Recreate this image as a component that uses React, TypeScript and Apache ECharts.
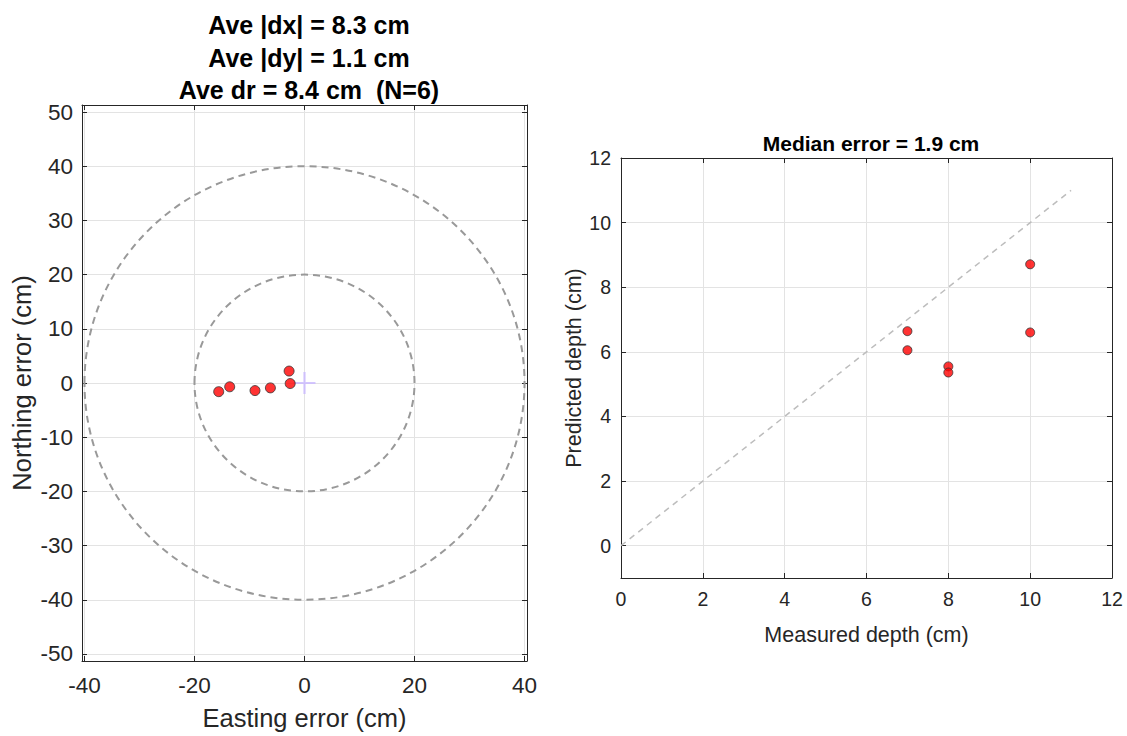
import React, { useEffect, useRef } from "react";
import * as echarts from "echarts";

// Left panel: horizontal position errors (cm)
const EASTING_ERR = [-15.6, -13.6, -9.0, -6.2, -2.8, -2.6];
const NORTHING_ERR = [-1.6, -0.7, -1.4, -0.9, 2.2, -0.1];
const RING_RADII = [20, 40];
const LEFT_TITLE = ["Ave |dx| = 8.3 cm", "Ave |dy| = 1.1 cm", "Ave dr = 8.4 cm  (N=6)"];

// Right panel: depth comparison (cm)
const MEASURED_DEPTH = [7, 7, 8, 8, 10, 10];
const PREDICTED_DEPTH = [6.64, 6.05, 5.55, 5.36, 8.71, 6.6];
const ONE_TO_ONE = [
  [0, 0],
  [11, 11],
];
const RIGHT_TITLE = "Median error = 1.9 cm";

const FONT = "'Liberation Sans', Arial, Helvetica, sans-serif";
const AX = "#262626";
const GRIDC = "#e3e3e3";

function mainAxis(extra: any) {
  return {
    type: "value",
    axisLine: { show: true, onZero: false, lineStyle: { color: AX, width: 1 } },
    axisTick: { show: true, inside: true, length: 5, lineStyle: { color: AX } },
    splitLine: { show: true, lineStyle: { color: GRIDC, width: 1 } },
    nameLocation: "middle",
    nameTextStyle: { color: AX, fontFamily: FONT },
    ...extra,
  };
}
function boxAxis(extra: any) {
  return {
    type: "value",
    axisLine: { show: true, onZero: false, lineStyle: { color: AX, width: 1 } },
    axisTick: { show: true, inside: true, length: 5, lineStyle: { color: AX } },
    axisLabel: { show: false },
    splitLine: { show: false },
    ...extra,
  };
}

export default function App() {
  const ref = useRef<HTMLDivElement>(null);
  useEffect(() => {
    if (!ref.current) return;
    const chart = echarts.init(ref.current, null, { renderer: "svg" });
    const LX = [-40.45, 40.45];
    const LY = [-51.3, 51.3];
    const RX = [0, 12];
    const RY = [-1, 12];
    const leftLabel = { color: AX, fontSize: 22.5, fontFamily: FONT, showMinLabel: false, showMaxLabel: false };
    const rightLabel = { color: AX, fontSize: 19.5, fontFamily: FONT };
    chart.setOption({
      animation: false,
      backgroundColor: "#ffffff",
      title: [
        {
          text: LEFT_TITLE.join("\n"),
          left: 304,
          top: 4,
          textAlign: "center",
          textStyle: { fontSize: 25, fontWeight: "bold", color: "#000", fontFamily: FONT, lineHeight: 32.5 },
        },
        {
          text: RIGHT_TITLE,
          left: 866,
          top: 128,
          textAlign: "center",
          textStyle: { fontSize: 21, fontWeight: "bold", color: "#000", fontFamily: FONT },
        },
      ],
      grid: [
        { left: 82, top: 105, width: 445, height: 557 },
        { left: 621, top: 158, width: 491, height: 420 },
      ],
      xAxis: [
        mainAxis({
          gridIndex: 0, min: LX[0], max: LX[1], position: "bottom",
          axisLabel: { ...leftLabel, margin: 13 },
          name: "Easting error (cm)", nameGap: 44,
          nameTextStyle: { color: AX, fontFamily: FONT, fontSize: 25.5 },
        }),
        boxAxis({ gridIndex: 0, min: LX[0], max: LX[1], position: "top" }),
        mainAxis({
          gridIndex: 1, min: RX[0], max: RX[1], interval: 2, position: "bottom",
          axisLabel: { ...rightLabel, margin: 11 },
          name: "Measured depth (cm)", nameGap: 46,
          nameTextStyle: { color: AX, fontFamily: FONT, fontSize: 21.5 },
        }),
        boxAxis({ gridIndex: 1, min: RX[0], max: RX[1], interval: 2, position: "top" }),
      ],
      yAxis: [
        mainAxis({
          gridIndex: 0, min: LY[0], max: LY[1], splitNumber: 10, position: "left",
          axisLabel: { ...leftLabel, margin: 9 },
          name: "Northing error (cm)", nameGap: 47,
          nameTextStyle: { color: AX, fontFamily: FONT, fontSize: 25.5 },
        }),
        boxAxis({ gridIndex: 0, min: LY[0], max: LY[1], splitNumber: 10, position: "right" }),
        mainAxis({
          gridIndex: 1, min: RY[0], max: RY[1], splitNumber: 6, position: "left",
          axisLabel: { ...rightLabel, margin: 10, showMinLabel: false },
          name: "Predicted depth (cm)", nameGap: 33,
          nameTextStyle: { color: AX, fontFamily: FONT, fontSize: 21.5 },
        }),
        boxAxis({ gridIndex: 1, min: RY[0], max: RY[1], splitNumber: 6, position: "right" }),
      ],
      series: [
        {
          type: "custom",
          xAxisIndex: 0,
          yAxisIndex: 0,
          data: RING_RADII.map((r) => [0, 0, r]),
          encode: { x: 0, y: 1 },
          silent: true,
          z: 1,
          renderItem: (_params: any, api: any) => {
            const r = api.value(2);
            const c = api.coord([0, 0]);
            const s = api.size([r, r]);
            return {
              type: "ellipse",
              shape: { cx: c[0], cy: c[1], rx: s[0], ry: s[1] },
              style: { fill: "none", stroke: "#999999", lineWidth: 2, lineDash: [7, 5] },
            };
          },
        },
        {
          type: "scatter",
          xAxisIndex: 0,
          yAxisIndex: 0,
          data: [[0, 0]],
          symbol: "path://M-1,-10H1V-1H10V1H1V10H-1V1H-10V-1H-1Z",
          symbolSize: 22,
          itemStyle: { color: "#c9b8ff" },
          z: 2,
        },
        {
          type: "scatter",
          xAxisIndex: 0,
          yAxisIndex: 0,
          data: EASTING_ERR.map((x, i) => [x, NORTHING_ERR[i]]),
          symbol: "circle",
          symbolSize: 10,
          itemStyle: { color: "#ff0000", borderColor: "#333333", borderWidth: 1 },
          z: 3,
        },
        {
          type: "line",
          xAxisIndex: 2,
          yAxisIndex: 2,
          data: ONE_TO_ONE,
          symbol: "none",
          lineStyle: { color: "#bdbdbd", width: 1.5, type: [6, 5] },
          z: 2,
        },
        {
          type: "scatter",
          xAxisIndex: 2,
          yAxisIndex: 2,
          data: MEASURED_DEPTH.map((x, i) => [x, PREDICTED_DEPTH[i]]),
          symbol: "circle",
          symbolSize: 9,
          itemStyle: { color: "#ff0000", borderColor: "#333333", borderWidth: 1 },
          z: 3,
        },
      ],
    });
    return () => chart.dispose();
  }, []);
  return (
    <div
      ref={ref}
      style={{ position: "fixed", left: 0, top: 0, width: 1127, height: 736, background: "#fff" }}
    />
  );
}
